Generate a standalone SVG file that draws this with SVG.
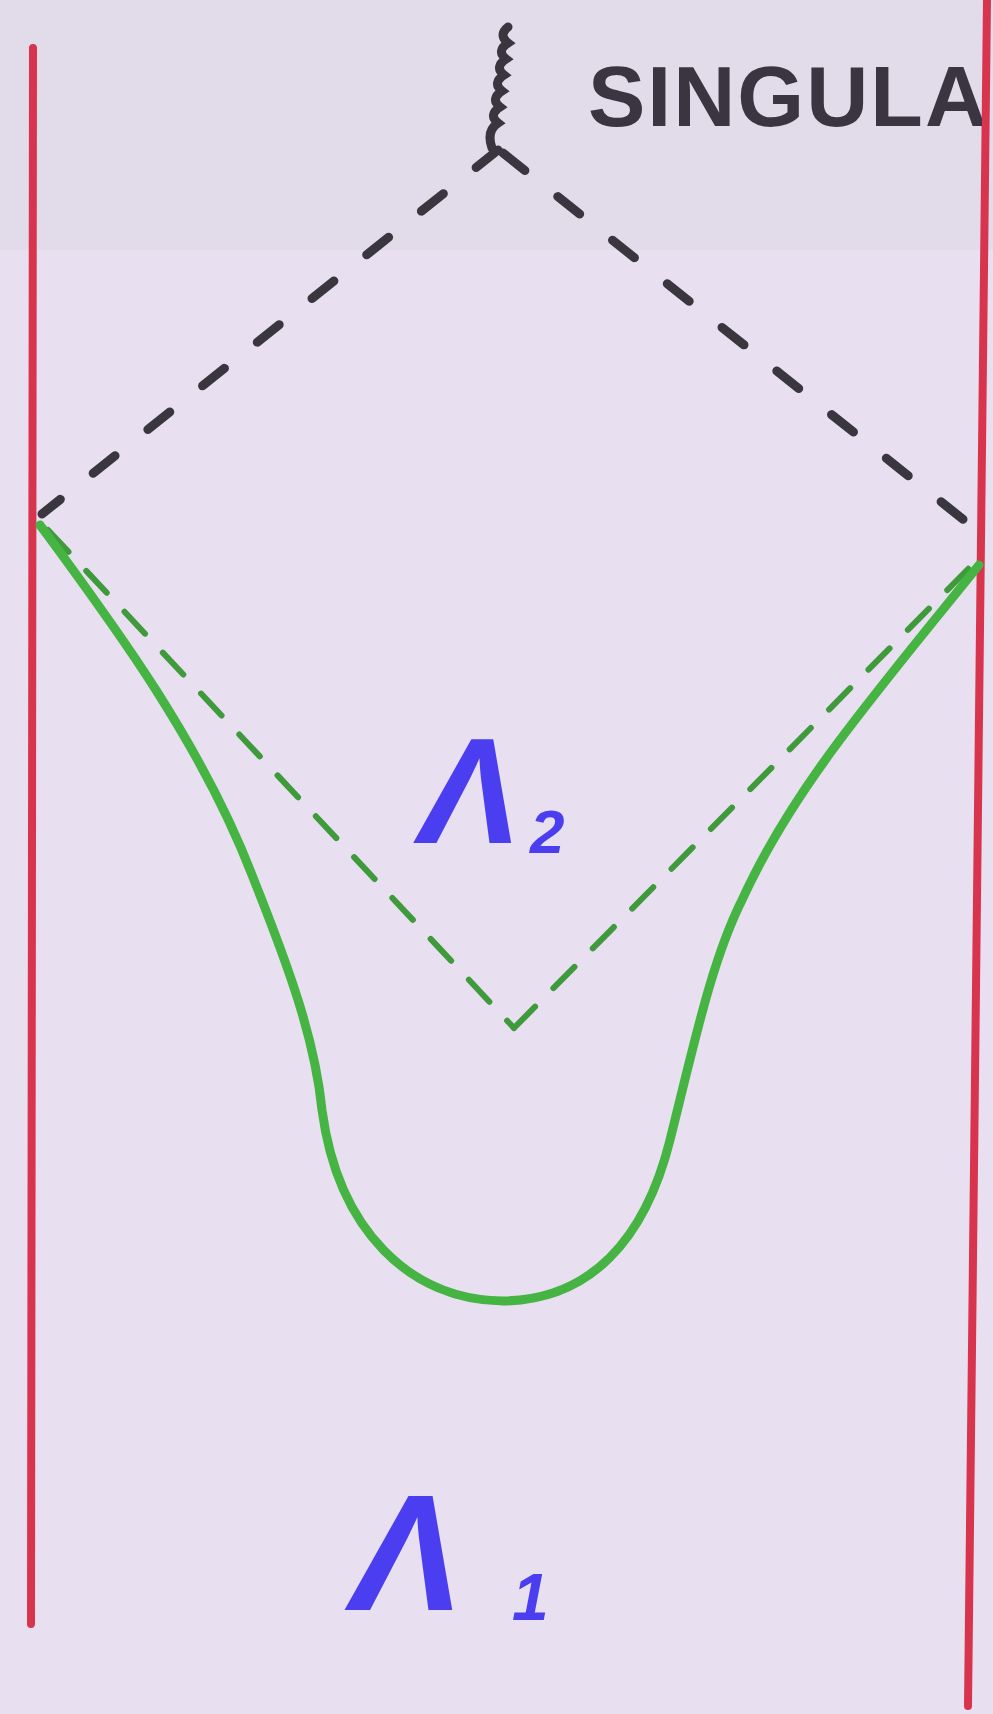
<svg xmlns="http://www.w3.org/2000/svg" width="993" height="1714" viewBox="0 0 993 1714">
<defs>
<style>
.red{stroke:#d8344e;stroke-width:8;stroke-linecap:round;fill:none}
.blk{stroke:#3a3640;stroke-width:9;stroke-linecap:round;fill:none;stroke-dasharray:28 42}
.gd{stroke:#3f9a3c;stroke-width:6;stroke-linecap:round;fill:none;stroke-dasharray:30 26}
.gs{stroke:#46b443;stroke-width:9;stroke-linecap:round;stroke-linejoin:round;fill:none}
.lam{fill:#4a3ef0;font-family:"Liberation Sans",sans-serif;font-style:italic;font-weight:bold}
.sing{fill:#3a3540;font-family:"Liberation Sans",sans-serif;font-weight:bold}
</style>
<clipPath id="cl"><rect x="0" y="0" width="982" height="1714"/></clipPath>
</defs>
<rect width="993" height="1714" fill="#e8dff0"/>
<rect width="993" height="250" fill="#ddd9e6" opacity="0.6"/>
<g id="walls">
<line class="red" x1="33" y1="48" x2="31" y2="1624"/>
<line class="red" x1="987" y1="0" x2="968" y2="1706"/>
</g>
<g id="singularity">
<path d="M508,27 q-10,8 0,16 q-12,8 -2,16 q-12,8 -2,16 q-12,8 -2,16 q-12,8 -2,16 q-12,8 -2,16 q-12,8 -6,25" stroke="#3a3640" stroke-width="9" fill="none" stroke-linecap="round"/>
<text class="sing" x="588" y="126" font-size="86" letter-spacing="2" clip-path="url(#cl)">SINGULA</text>
</g>
<g id="connectors">
<line class="blk" x1="498" y1="150" x2="42" y2="514"/>
<line class="blk" x1="503" y1="153" x2="984" y2="536"/>
<line class="gd" x1="48" y1="530" x2="514" y2="1028"/>
<line class="gd" x1="514" y1="1028" x2="977" y2="560"/>
<path class="gs" d="M40,525 C110,620 200,740 252,875 C290,970 315,1040 322,1110 C338,1230 410,1300 503,1301 C590,1300 645,1240 670,1140 C695,1040 712,960 742,900 C792,790 870,700 979,565"/>
</g>
<g id="lambda2">
<text class="lam" x="420" y="843" font-size="150">Λ</text>
<text class="lam" x="530" y="853" font-size="62">2</text>
</g>
<g id="lambda1">
<text class="lam" x="352" y="1610" font-size="165">Λ</text>
<text class="lam" x="512" y="1620" font-size="66">1</text>
</g>
</svg>
